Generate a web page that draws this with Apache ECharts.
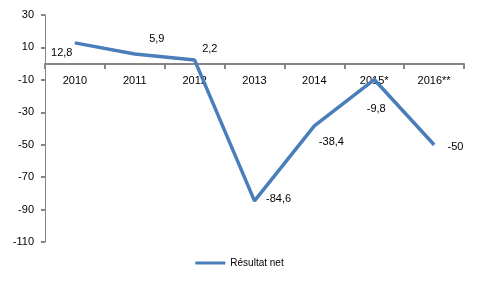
<!DOCTYPE html>
<html><head><meta charset="utf-8">
<script src="https://cdn.jsdelivr.net/npm/echarts@6/dist/echarts.min.js"></script>
<style>html,body{margin:0;padding:0;background:#fff}#c{width:479px;height:287px}</style>
</head><body><div id="c"></div>
<script>
const categories = ['2010','2011','2012','2013','2014','2015*','2016**'];
const values = [12.8, 5.9, 2.2, -84.6, -38.4, -9.8, -50];
const labelPos = [[3,10,'left'],[22,-4,'top'],[2,-11,'right'],[6,-2,'right'],[-1,16,'right'],[2,18,'bottom'],[8,2,'right']];
const seriesName = 'Résultat net';
const font = 'Liberation Sans';
const chart = echarts.init(document.getElementById('c'));
chart.setOption({
  animation:false,
  grid:{left:45,right:15,top:15,bottom:45},
  xAxis:{type:'category',data:categories,boundaryGap:true,position:'bottom',offset:-178,
    axisLine:{onZero:false,lineStyle:{color:'#868686',width:2}},
    axisTick:{show:true,length:5,lineStyle:{color:'#868686',width:2}},
    axisLabel:{color:'#000',fontFamily:font,fontSize:11,margin:11}},
  yAxis:{type:'value',min:-110,max:30,interval:20,
    axisLine:{show:true,lineStyle:{color:'#868686',width:1}},
    axisTick:{show:true,length:4,lineStyle:{color:'#868686',width:2}},
    splitLine:{show:false},
    axisLabel:{color:'#000',fontFamily:font,fontSize:11,margin:11}},
  legend:{bottom:14,left:'center',itemWidth:30,itemHeight:3,icon:'rect',itemGap:4,
    textStyle:{fontFamily:font,fontSize:10,color:'#000'},data:[seriesName]},
  series:[{name:seriesName,type:'line',symbol:'circle',symbolSize:1,showSymbol:true,
    lineStyle:{color:'#4A7EBB',width:3.5},itemStyle:{color:'#4A7EBB'},
    data:values.map((v,i)=>({value:v,label:{show:true,position:labelPos[i][2],offset:[labelPos[i][0],labelPos[i][1]],
      formatter:String(v).replace('.',','),fontFamily:font,fontSize:11,color:'#000'}}))}]
});
</script></body></html>
